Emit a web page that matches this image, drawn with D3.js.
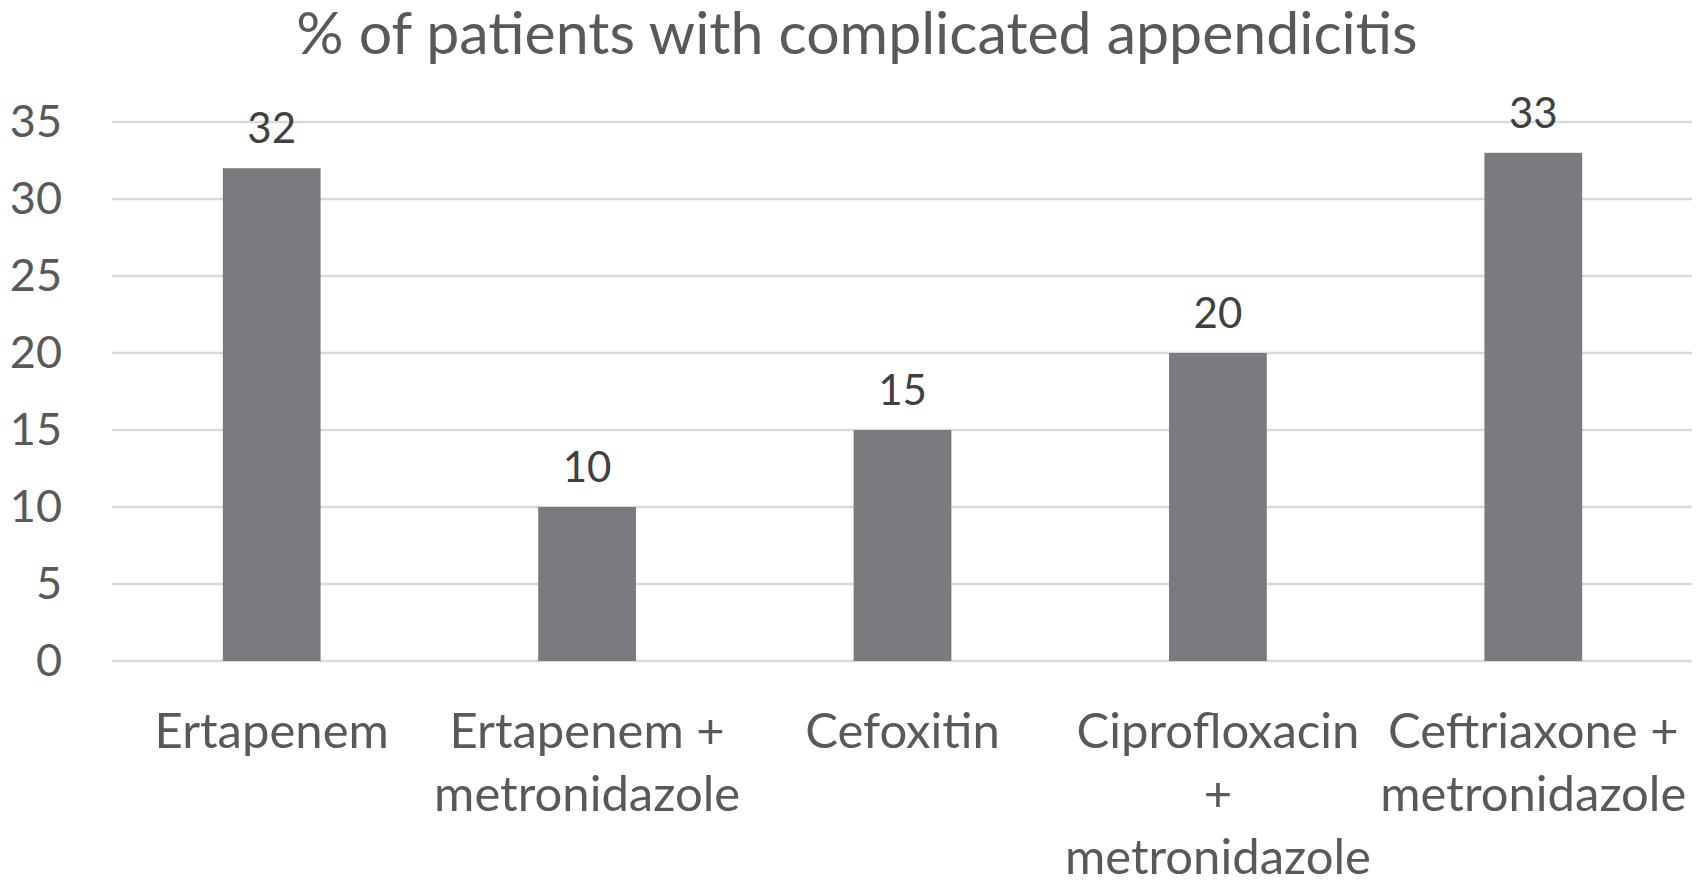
<!DOCTYPE html>
<html><head><meta charset="utf-8">
<script src="https://cdn.jsdelivr.net/npm/d3@7"></script>
<style>body{margin:0;background:#fff}svg{display:block}</style>
</head><body>
<svg id="c" width="1705" height="880"></svg>
<script>
const title = "% of patients with complicated appendicitis";
const categories = ["Ertapenem", "Ertapenem + metronidazole", "Cefoxitin", "Ciprofloxacin + metronidazole", "Ceftriaxone + metronidazole"];
const categoryLines = [["Ertapenem"], ["Ertapenem +", "metronidazole"], ["Cefoxitin"], ["Ciprofloxacin", "+", "metronidazole"], ["Ceftriaxone +", "metronidazole"]];
const values = [32, 10, 15, 20, 33];
const yTicks = [0, 5, 10, 15, 20, 25, 30, 35];

const font = "Lato, 'Open Sans', sans-serif";
const svg = d3.select("#c");
const x = d3.scaleBand().domain(categories).range([114, 1691]).paddingInner(0.69).paddingOuter(0.345);
const y = d3.scaleLinear().domain([0, 35]).range([661, 122]);

// gridlines
svg.append("g").selectAll("line").data(yTicks).join("line")
  .attr("x1", 112).attr("x2", 1692)
  .attr("y1", d => y(d)).attr("y2", d => y(d))
  .attr("stroke", "#d9d9d9").attr("stroke-width", 2.5);

// y axis labels
const yAxis = svg.append("g").attr("transform", "translate(62,0)")
  .call(d3.axisLeft(y).tickValues(yTicks).tickSize(0).tickPadding(0));
yAxis.select(".domain").remove();
yAxis.selectAll("text").attr("font-family", font).attr("font-size", 45).attr("fill", "#595959");

// bars
svg.append("g").selectAll("rect").data(values).join("rect")
  .attr("x", (d, i) => x(categories[i])).attr("width", x.bandwidth())
  .attr("y", d => y(d)).attr("height", d => y(0) - y(d))
  .attr("fill", "#7a7b7f");

// data labels
svg.append("g").selectAll("text").data(values).join("text")
  .attr("x", (d, i) => x(categories[i]) + x.bandwidth() / 2)
  .attr("y", d => y(d) - 25)
  .attr("text-anchor", "middle").attr("font-family", font).attr("font-size", 42)
  .attr("fill", "#404040").text(d => d);

// category labels
const xAxis = svg.append("g").attr("transform", `translate(0,${y(0)})`)
  .call(d3.axisBottom(x).tickSize(0).tickFormat(""));
xAxis.select(".domain").remove();
xAxis.selectAll(".tick").each(function(d) {
  const i = categories.indexOf(d);
  const t = d3.select(this).append("text").attr("text-anchor", "middle")
    .attr("font-family", font).attr("font-size", 49).attr("fill", "#595959");
  categoryLines[i].forEach((ln, k) => {
    t.append("tspan").attr("x", 0).attr("y", 87 + k * 63).text(ln);
  });
});

// title
svg.append("text").attr("x", 857).attr("y", 54).attr("text-anchor", "middle")
  .attr("font-family", font).attr("font-size", 59).attr("fill", "#595959").text(title);
</script>
</body></html>
